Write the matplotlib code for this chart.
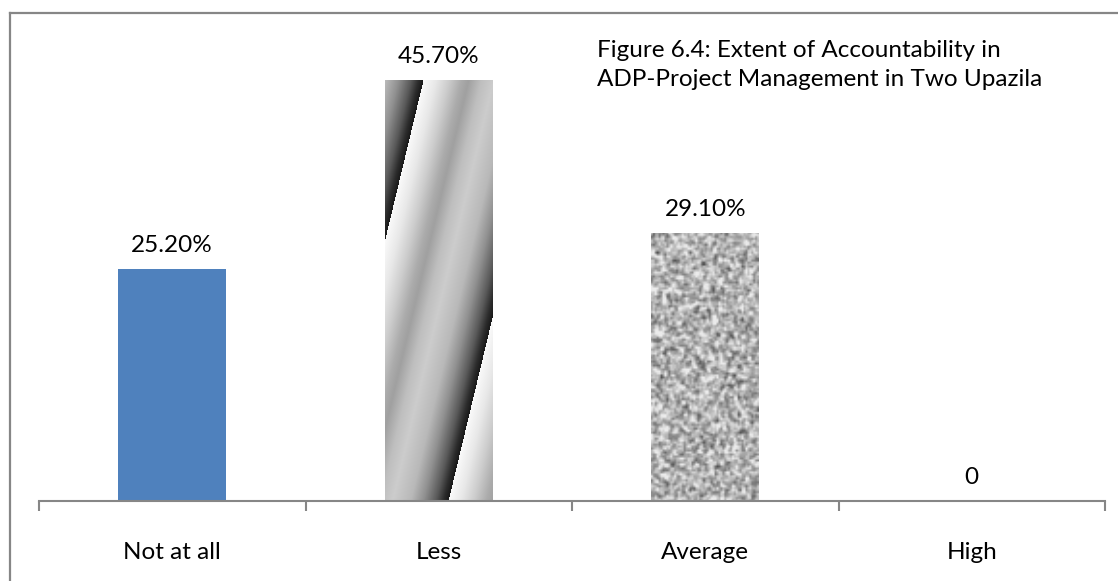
import numpy as np
import matplotlib
matplotlib.use("Agg")
import matplotlib.pyplot as plt
from matplotlib.lines import Line2D

# Data
categories = ["Not at all", "Less", "Average", "High"]
values = [25.2, 45.7, 29.1, 0]
labels = ["25.20%", "45.70%", "29.10%", "0"]
note = "Figure 6.4: Extent of Accountability in\nADP-Project Management in Two Upazila"

plt.rcParams['font.family'] = ['Lato', 'DejaVu Sans']
FS = 17.5

W, H = 1118, 581
fig = plt.figure(figsize=(W / 100, H / 100), dpi=100)
ax = fig.add_axes([39 / W, (H - 501) / H, (1105 - 39) / W, 460.5 / H])
ax.set_xlim(-0.5, len(categories) - 0.5)
ax.set_ylim(0, 50)

x = np.arange(len(categories))
bars = ax.bar(x, values, width=0.405, color=['#4f81bd', 'none', 'none', 'none'],
              edgecolor='none', zorder=2)


def bar_pixels(b):
    (x0, y0), (x1, y1) = ax.transData.transform(
        [(b.get_x(), b.get_y()), (b.get_x() + b.get_width(), b.get_y() + b.get_height())])
    return int(round(x1 - x0)), int(round(y1 - y0))


def put_texture(b, img):
    im = ax.imshow(img, cmap='gray', vmin=0, vmax=255, aspect='auto',
                   interpolation='bilinear', zorder=2,
                   extent=[b.get_x(), b.get_x() + b.get_width(), b.get_y(), b.get_y() + b.get_height()])
    im.set_clip_path(b)


# "Less" bar: diagonal sawtooth gradient
b = bars[1]
w, h = bar_pixels(b)
xx, yy = np.meshgrid(np.arange(w), np.arange(h))
p = ((xx + 0.24 * yy - 38) % 126) / 126
knots_p = [0, 0.1, 0.2, 0.3, 0.36, 0.46, 0.56, 0.7, 0.8, 0.9, 0.96, 1.0]
knots_v = [250, 232, 205, 172, 160, 190, 204, 185, 145, 90, 45, 25]
put_texture(b, np.interp(p, knots_p, knots_v))

# "Average" bar: mottled grey texture
b = bars[2]
w, h = bar_pixels(b)
rng = np.random.default_rng(3)
coarse = rng.normal(0, 1, (h // 2 + 2, w // 2 + 2))
k = np.array([0.2, 0.6, 0.2])
coarse = np.apply_along_axis(lambda r: np.convolve(r, k, mode='same'), 0, coarse)
coarse = np.apply_along_axis(lambda r: np.convolve(r, k, mode='same'), 1, coarse)
coarse = coarse / coarse.std()
put_texture(b, np.clip(178 + 32 * coarse, 70, 235))

# value labels
for xi, v, lab in zip(x, values, labels):
    ax.annotate(lab, (xi, v), xytext=(0, 17), textcoords='offset points',
                ha='center', va='center', fontsize=FS, color='black')

# axes styling
for s in ['left', 'right', 'top']:
    ax.spines[s].set_visible(False)
ax.spines['bottom'].set_color('#868686')
ax.spines['bottom'].set_linewidth(1.5)
ax.set_yticks([])
ax.set_xticks(x)
ax.set_xticklabels(categories, fontsize=FS)
ax.tick_params(axis='x', which='major', length=0, pad=29.5)
ax.set_xticks(np.arange(len(categories) + 1) - 0.5, minor=True)
ax.tick_params(axis='x', which='minor', length=7, width=1.5, color='#868686', direction='out')

fig.text(597 / W, 1 - 65 / H, note, fontsize=FS, ha='left', va='center', linespacing=1.42)

# chart border (top and left edges visible)
fig.add_artist(Line2D([9.5 / W, 1.0], [1 - 12.5 / H] * 2, color='#868686', lw=1.6))
fig.add_artist(Line2D([9.5 / W] * 2, [0, 1 - 12.5 / H], color='#868686', lw=1.6))

fig.savefig('out.png', dpi=100)
